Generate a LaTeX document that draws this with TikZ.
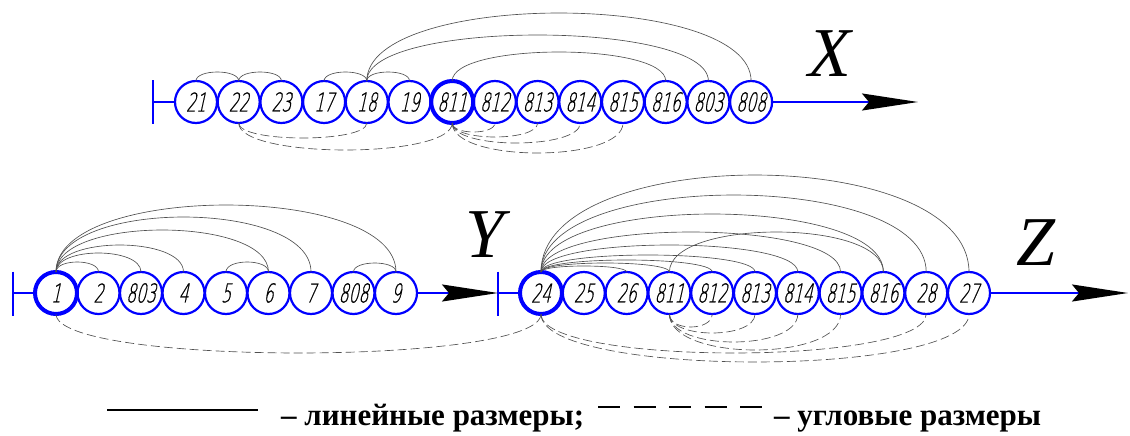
\documentclass[tikz,border=0pt]{standalone}
\usepackage{fontspec}
\setmainfont{Liberation Serif}
\IfFontExistsTF{DejaVu Sans ExtraLight}
 {\newfontfamily\gost{DejaVu Sans ExtraLight}[FakeSlant=0.22,FakeStretch=0.6,FakeBold=0.6]}
 {\newfontfamily\gost{DejaVu Sans}[FakeSlant=0.22,FakeStretch=0.6]}
\usetikzlibrary{arrows.meta}
\definecolor{cblue}{RGB}{0,0,255}
\definecolor{arcgray}{RGB}{80,80,80}
\tikzset{
 cir/.style={circle, draw=cblue, line width=2.2pt, minimum size=42pt, inner sep=0pt, outer sep=0pt, font=\gost\fontsize{26}{26}\selectfont},
 cirb/.style={cir, line width=4pt},
 axisline/.style={draw=cblue, line width=2pt},
 tipped/.style={axisline, -{Stealth[black,length=56pt,width=17pt,inset=7pt]}},
 solidarc/.style={draw=arcgray, line width=0.65pt},
 dasharc/.style={solidarc, dash pattern=on 9pt off 4pt},
 axlabel/.style={font=\itshape\fontsize{70}{70}\selectfont, inner sep=0pt},
 legtext/.style={font=\bfseries\fontsize{31}{31}\selectfont, inner sep=0pt, anchor=base west},
 legline/.style={draw=black, line width=1.3pt},
}
\newcommand\myup[3]{\draw[solidarc] (#1.north) .. controls +(0,{-1.333*#3}) and +(0,{-1.333*#3}) .. (#2.north);}
\newcommand\mydown[3]{\draw[dasharc] (#1.south) .. controls +(0,{1.333*#3}) and +(0,{1.333*#3}) .. (#2.south);}
\begin{document}
\begin{tikzpicture}[x=1pt,y=-1pt]
\useasboundingbox (0,0) rectangle (1130,436);
% ---------- X row ----------
\foreach \l/\s [count=\i from 0] in {21/cir,22/cir,23/cir,17/cir,18/cir,19/cir,811/cirb,812/cir,813/cir,814/cir,815/cir,816/cir,803/cir,808/cir}
  \node[\s] (x\l) at ({196+42.7*\i},102) {\l};
\coordinate (xbar) at (153,102);
\coordinate (xbt) at (153,80.5);
\coordinate (xbb) at (153,123.5);
\coordinate (xtip) at (918,102);
\draw[axisline] (xbt) -- (xbb);
\draw[axisline] (xbar) -- (x21.west);
\draw[tipped] (x808.east) -- (xtip);
\node[axlabel] (lx) at (830,54) {X};
\myup{x21}{x22}{9}
\myup{x22}{x23}{9}
\myup{x17}{x18}{9}
\myup{x18}{x19}{9}
\myup{x18}{x803}{46}
\myup{x18}{x808}{68}
\myup{x811}{x816}{29}
\mydown{x22}{x18}{15}
\mydown{x22}{x811}{27}
\mydown{x811}{x812}{9}
\mydown{x811}{x813}{14}
\mydown{x811}{x814}{20}
\mydown{x811}{x815}{30}
% ---------- Y row ----------
\foreach \l/\s [count=\i from 0] in {1/cirb,2/cir,803/cir,4/cir,5/cir,6/cir,7/cir,808/cir,9/cir}
  \node[\s] (y\l) at ({56+42.5*\i},293) {\l};
\coordinate (ybar) at (13,293);
\coordinate (ybt) at (13,271.5);
\coordinate (ybb) at (13,315.5);
\draw[axisline] (ybt) -- (ybb);
\draw[axisline] (ybar) -- (y1.west);
\node[axlabel] (ly) at (485,235) {Y};
% ---------- Z row ----------
\foreach \l/\s [count=\i from 0] in {24/cirb,25/cir,26/cir,811/cir,812/cir,813/cir,814/cir,815/cir,816/cir,28/cir,27/cir}
  \node[\s] (z\l) at ({541+42.8*\i},293) {\l};
\coordinate (zbar) at (498,293);
\coordinate (zbt) at (498,271.5);
\coordinate (zbb) at (498,315.5);
\coordinate (ztip) at (1128,293);
\draw[axisline] (zbt) -- (zbb);
\draw[tipped] (y9.east) -- (zbar);
\draw[axisline] (zbar) -- (z24.west);
\draw[tipped] (z27.east) -- (ztip);
\node[axlabel] (lz) at (1036,243) {Z};
% Y arcs
\myup{y1}{y2}{10}
\myup{y1}{y803}{19}
\myup{y1}{y4}{27}
\myup{y1}{y6}{42}
\myup{y1}{y7}{55}
\myup{y1}{y9}{67}
\myup{y5}{y6}{10}
\myup{y808}{y9}{9}
\mydown{y1}{z24}{39}
% Z arcs
\myup{z24}{z26}{6}
\myup{z24}{z811}{9}
\myup{z24}{z812}{12}
\myup{z24}{z813}{17}
\myup{z24}{z814}{27}
\myup{z24}{z815}{40}
\myup{z24}{z816}{58}
\myup{z24}{z28}{77}
\myup{z24}{z27}{97}
\myup{z811}{z816}{40}
\mydown{z811}{z812}{13}
\mydown{z811}{z813}{19}
\mydown{z811}{z814}{28}
\mydown{z811}{z815}{36}
\mydown{z24}{z28}{39}
\mydown{z24}{z27}{48}
% ---------- legend ----------
\coordinate (la) at (107,410);
\coordinate (lb) at (258,410);
\draw[legline] (la) -- (lb);
\node[legtext] (t1) at (281,425) {– линейные размеры;};
\coordinate (lc) at (598,407);
\coordinate (ld) at (762,407);
\draw[legline, dash pattern=on 22pt off 13.5pt] (lc) -- (ld);
\node[legtext] (t2) at (774,425) {– угловые размеры};
\end{tikzpicture}
\end{document}
